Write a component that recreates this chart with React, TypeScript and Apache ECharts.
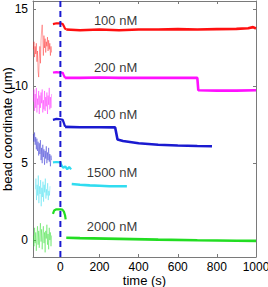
import React, { useEffect, useRef } from "react";
import * as echarts from "echarts";

const X_MIN = -140;
const X_MAX = 1000;
const Y_MIN = -1.1;
const Y_MAX = 15.55;
const xTicks = [0, 200, 400, 600, 800, 1000];
const yTicks = [0, 5, 10, 15];

// 100 nM (red)
const redPre = [[-138,12.4],[-135,12.9],[-132,11.9],[-129,12.6],[-126,12.1],[-123,12.8],[-120,11.6],[-117,12.3],[-114,11.0],[-111,10.6],[-108,11.8],[-105,12.6],[-102,11.5],[-99,13.0],[-96,13.6],[-93,14.0],[-90,13.2],[-87,12.0],[-84,13.3],[-81,12.5],[-78,13.1],[-75,12.2],[-72,12.9],[-69,12.6],[-66,13.2],[-63,12.3],[-60,13.0],[-57,12.4],[-54,12.8],[-51,12.0],[-48,12.6],[-45,12.2]];
const redPlateau = [[-38,14.05],[-20,14.1],[0,14.1],[12,14.05],[18,13.9],[24,13.75],[30,13.7]];
const redPost = [[30,13.7],[100,13.65],[200,13.7],[300,13.65],[400,13.7],[500,13.7],[600,13.72],[700,13.7],[800,13.72],[900,13.74],[960,13.78],[985,13.85],[1000,13.76]];

// 200 nM (magenta)
const magPre = [[-138,9.0],[-135,9.8],[-132,8.4],[-129,9.5],[-126,8.6],[-123,9.9],[-120,8.3],[-117,9.2],[-114,8.8],[-111,9.7],[-108,8.2],[-105,9.4],[-102,8.6],[-99,9.6],[-96,8.9],[-93,9.8],[-90,8.3],[-87,9.1],[-84,8.5],[-81,9.7],[-78,8.4],[-75,9.3],[-72,8.7],[-69,9.6],[-66,8.2],[-63,9.4],[-60,8.8],[-57,9.9],[-54,8.5],[-51,9.3],[-48,8.6],[-45,9.5]];
const magPlateau = [[-38,10.9],[-20,10.92],[0,10.9],[12,10.88],[18,10.7],[24,10.55]];
const magPost = [[24,10.55],[100,10.55],[200,10.57],[300,10.55],[400,10.56],[500,10.55],[600,10.56],[700,10.55],[705,9.75],[800,9.72],[900,9.72],[1000,9.75]];

// 400 nM (blue)
const bluePre = [[-138,6.9],[-135,6.4],[-132,7.0],[-129,6.2],[-126,6.7],[-123,5.9],[-120,6.6],[-117,5.8],[-114,6.4],[-111,5.5],[-108,6.3],[-105,5.6],[-102,6.5],[-99,5.2],[-96,6.0],[-93,5.0],[-90,6.2],[-87,5.4],[-84,5.9],[-81,4.9],[-78,5.8],[-75,5.3],[-72,6.1],[-69,5.0],[-66,5.7],[-63,5.2],[-60,6.0],[-57,5.1],[-54,5.6],[-51,4.8],[-48,5.5],[-45,5.2]];
const bluePlateau = [[-38,7.82],[-20,7.88],[0,7.86],[12,7.82],[18,7.6],[24,7.38]];
const bluePost = [[24,7.36],[100,7.34],[200,7.34],[280,7.33],[292,6.55],[320,6.45],[400,6.3],[500,6.2],[600,6.15],[700,6.12],[775,6.1]];

// 1500 nM (cyan)
const cyanPre = [[-128,3.3],[-125,4.0],[-122,2.6],[-119,3.6],[-116,2.9],[-113,4.2],[-110,2.4],[-107,3.5],[-104,3.0],[-101,3.9],[-98,2.2],[-95,3.4],[-92,2.8],[-89,3.8],[-86,2.5],[-83,3.6],[-80,3.1],[-77,4.0],[-74,2.7],[-71,3.3],[-68,2.9],[-65,3.7],[-62,2.6],[-59,3.2],[-56,2.9],[-53,3.5]];
const cyanPlateau = [[-38,5.05],[-20,5.08],[0,5.05],[6,4.85],[15,4.7],[25,4.8],[35,4.6],[45,4.75],[55,4.6]];
const cyanPost = [[58,3.65],[100,3.6],[150,3.56],[200,3.53],[250,3.5],[300,3.5],[340,3.5]];

// 2000 nM (green)
const greenPre = [[-138,0.3],[-135,-0.4],[-132,0.8],[-129,-0.2],[-126,0.5],[-123,-0.7],[-120,0.2],[-117,0.9],[-114,-0.3],[-111,0.6],[-108,-0.5],[-105,0.4],[-102,1.1],[-99,-0.1],[-96,0.7],[-93,-0.6],[-90,0.3],[-87,0.9],[-84,-0.2],[-81,0.5],[-78,-0.8],[-75,0.6],[-72,0.1],[-69,1.0],[-66,-0.3],[-63,0.4],[-60,-0.6],[-57,0.8],[-54,0.0],[-51,0.5],[-48,-0.4],[-45,0.3]];
const greenPlateau = [[-38,1.7],[-32,1.92],[-20,2.0],[0,2.0],[10,1.98],[18,1.85],[24,1.6],[27,1.35]];
const greenPost = [[30,0.15],[100,0.13],[300,0.08],[500,0.03],[700,-0.01],[900,-0.04],[1000,-0.05]];

const labels = [
  [393, 14.3, "100 nM"],
  [393, 11.25, "200 nM"],
  [393, 8.15, "400 nM"],
  [393, 4.4, "1500 nM"],
  [393, 0.9, "2000 nM"],
];

const FONT = "'Liberation Sans', Arial, Helvetica, sans-serif";

function traceSeries(color: string, pre: number[][], plateau: number[][], post: number[][]) {
  return [
    { type: "line", data: pre, symbol: "none", lineStyle: { color, width: 0.5, opacity: 0.75 }, silent: true },
    { type: "line", data: plateau, symbol: "none", lineStyle: { color, width: 2.2 }, silent: true },
    { type: "line", data: post, symbol: "none", lineStyle: { color, width: 2.6 }, silent: true },
  ];
}

export default function App() {
  const ref = useRef<HTMLDivElement>(null);
  useEffect(() => {
    if (!ref.current) return;
    const chart = echarts.init(ref.current, null, { renderer: "svg" });
    const axisLineColor = "#7a7a7a";
    const baseX = {
      type: "value",
      min: X_MIN,
      max: X_MAX,
      splitLine: { show: false },
      axisLine: { show: true, onZero: false, lineStyle: { color: axisLineColor, width: 1 } },
      axisTick: { show: true, inside: true, length: 3, customValues: xTicks, lineStyle: { color: axisLineColor } },
    };
    const baseY = {
      type: "value",
      min: Y_MIN,
      max: Y_MAX,
      splitLine: { show: false },
      axisLine: { show: true, onZero: false, lineStyle: { color: axisLineColor, width: 1 } },
      axisTick: { show: true, inside: true, length: 3, customValues: yTicks, lineStyle: { color: axisLineColor } },
    };
    chart.setOption({
      animation: false,
      backgroundColor: "#ffffff",
      grid: { left: 33, right: 12, top: 1, bottom: 30, containLabel: false, outerBoundsMode: "none" },
      xAxis: [
        {
          ...baseX,
          position: "bottom",
          name: "time (s)",
          nameLocation: "middle",
          nameGap: 17,
          nameMoveOverlap: false,
          nameTextStyle: { color: "#000", fontSize: 13, lineHeight: 13, fontFamily: FONT },
          axisLabel: { show: true, customValues: xTicks, margin: 4, color: "#000", fontSize: 12, lineHeight: 12, fontFamily: FONT, formatter: (v: number) => String(v) },
        },
        { ...baseX, position: "top", axisLabel: { show: false } },
      ],
      yAxis: [
        {
          ...baseY,
          position: "left",
          name: "bead coordinate (μm)",
          nameLocation: "middle",
          nameGap: 19,
          nameMoveOverlap: false,
          nameTextStyle: { color: "#000", fontSize: 13, fontFamily: FONT },
          axisLabel: { show: true, customValues: yTicks, margin: 5, color: "#000", fontSize: 12, fontFamily: FONT, formatter: (v: number) => String(v) },
        },
        { ...baseY, position: "right", axisLabel: { show: false } },
      ],
      series: [
        ...traceSeries("#ff1010", redPre, redPlateau, redPost),
        ...traceSeries("#ff10ff", magPre, magPlateau, magPost),
        ...traceSeries("#1a1ad0", bluePre, bluePlateau, bluePost),
        ...traceSeries("#30dcf0", cyanPre, cyanPlateau, cyanPost),
        ...traceSeries("#22dd22", greenPre, greenPlateau, greenPost),
        {
          type: "line",
          data: [[0, Y_MIN], [0, Y_MAX]],
          symbol: "none",
          lineStyle: { color: "#1a1ad0", width: 2, type: [6, 4] },
          silent: true,
          z: 5,
        },
        {
          type: "scatter",
          data: labels,
          symbolSize: 0,
          silent: true,
          label: {
            show: true,
            position: "left",
            distance: 0,
            formatter: (p: any) => p.data[2],
            color: "#000",
            fontSize: 13,
            fontFamily: FONT,
          },
          z: 6,
        },
      ],
    });
    return () => chart.dispose();
  }, []);
  return <div ref={ref} style={{ position: "fixed", left: 0, top: 0, width: 268, height: 287 }} />;
}
